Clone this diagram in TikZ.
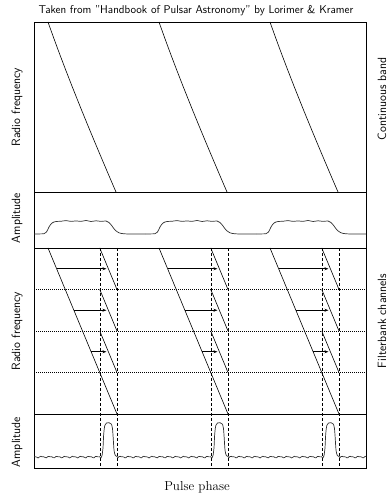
\documentclass[tikz,border=0pt]{standalone}
\usetikzlibrary{arrows.meta}

\tikzset{
  panel/.style={line width=0.8pt, draw=black},
  sweep/.style={line width=0.6pt, draw=black},
  profile/.style={line width=0.7pt, draw=black!80},
  guide/.style={line width=0.5pt, dash pattern=on 3pt off 2pt},
  chan/.style={line width=0.5pt, dash pattern=on 1pt off 1pt},
  shiftarrow/.style={line width=0.6pt, -{Stealth[length=4pt,width=3pt]}, shorten >=2pt},
  lbl/.style={font=\sffamily\fontsize{11.3}{13}\selectfont, inner sep=0pt},
  sidelbl/.style={font=\sffamily\fontsize{12}{14}\selectfont, inner sep=0pt, rotate=90},
}

\begin{document}
\begin{tikzpicture}[x=1pt,y=1pt]
	\useasboundingbox (0,0) rectangle (390,500);

	%Labels
	\node[lbl] (title) at (196,489) {Taken from "Handbook of Pulsar Astronomy" by Lorimer \& Kramer};
	\node[font=\fontsize{13}{15}\selectfont, inner sep=0pt] (phase) at (197,13) {Pulse phase};
	\node[sidelbl] (freqA) at (17,393) {Radio frequency};
	\node[sidelbl] (ampA) at (17,282) {Amplitude};
	\node[sidelbl] (freqB) at (17,169) {Radio frequency};
	\node[sidelbl] (ampB) at (17,58) {Amplitude};
	\node[sidelbl] (band) at (382,401) {Continuous band};
	\node[sidelbl] (channels) at (382,179) {Filterbank channels};

	%Frame and panels
	\draw[panel] (34,32) rectangle (366,478);
	\draw[panel] (34,308) -- (366,308);
	\draw[panel] (34,252) -- (366,252);
	\draw[panel] (34,86) -- (366,86);

	%Channel boundaries
	\foreach \y in {210.5,169,127.5}
		\draw[chan] (34,\y) -- (366,\y);

	%Pulses
	\begin{scope}
	\clip (34,32) rectangle (366,478);
	\foreach \k in {0,1,2}{
	\begin{scope}[xshift=\k*111pt]
		%continuous band sweep
		\draw[sweep] (48,478) .. controls (68,421) and (94,359) .. (116,308);

		%smeared profile
		\draw[profile] plot[smooth] coordinates {(34,266) (44,266.3) (46.5,268) (49,273) (52,277)
			(56,278.5) (61,278.7) (66,279.4) (71,278.6) (76,279.1) (81,278.6) (86,279.5)
			(91,278.5) (96,279.2) (101,278.6) (106,279) (109,277.5) (112,274) (115,270)
			(119,267.2) (124,266.2) (132,266) (145,266)};

		%filterbank sweep
		\draw[sweep] (48,252) -- (117,86);

		%dedispersed channels
		\foreach \ya/\yb in {252/210.5, 210.5/169, 169/127.5}
			\draw[sweep] (99.75,\ya) -- (117,\yb);

		%phase guides
		\draw[guide] (99.75,252) -- (99.75,32);
		\draw[guide] (117,252) -- (117,32);

		%shifts
		\draw[shiftarrow] (56.6,231.25) -- (108.4,231.25);
		\draw[shiftarrow] (73.9,189.75) -- (108.4,189.75);
		\draw[shiftarrow] (91.1,148.25) -- (108.4,148.25);

		%dedispersed profile
		\draw[profile] plot[domain=34:101,samples=50] (\x,{43+0.6*sin(45.405*\x)+0.4*sin(90.81*\x+40)})
			-- plot[smooth] coordinates {(102,44.3) (103,52) (103.7,66) (104.8,74.5) (106.5,77)
			(109,77.3) (111.2,76) (112.4,72) (113.2,62) (114,50) (115.3,44.5) (117,43.5)}
			-- plot[domain=118:145,samples=25] (\x,{43+0.6*sin(45.405*\x)+0.4*sin(90.81*\x+40)});
	\end{scope}
	}
	\end{scope}

\end{tikzpicture}
\end{document}
